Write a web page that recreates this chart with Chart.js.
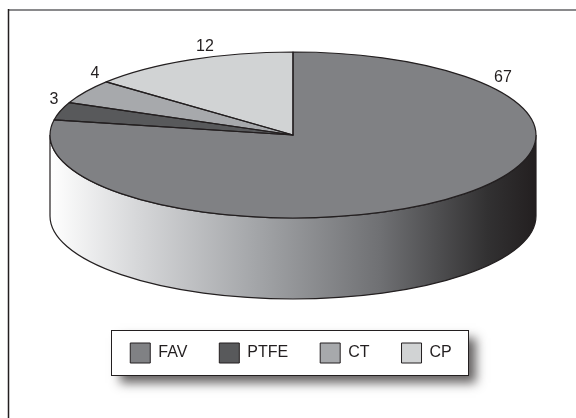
<!DOCTYPE html>
<html>
<head>
<meta charset="utf-8">
<style>
  html, body { margin: 0; padding: 0; background: #fff; }
  canvas { display: block; }
</style>
<script src="https://cdn.jsdelivr.net/npm/chart.js@4"></script>
</head>
<body>
<canvas id="grafico" width="576" height="418"></canvas>
<script>
var categorias = ["FAV", "PTFE", "CT", "CP"];
var valores = [67, 3, 4, 12];
var cores = ["#808184", "#58595b", "#a7a9ac", "#d1d3d4"];

// where the flattened pie sits on the page
var CX = 293, CY = 135, RX = 243, RY = 83, ALTURA = 81;
var TRACO = "#231f20";
// the reference has its value labels placed by hand
var posRotulos = [[503, 78], [54, 100], [95, 74], [205, 47]];

var pizza3d = {
  id: "pizza3d",
  beforeDraw: function (chart) {
    var ctx = chart.ctx;
    ctx.save();
    ctx.fillStyle = "#fff";
    ctx.fillRect(0, 0, chart.width, chart.height);

    // frame
    ctx.strokeStyle = "#8a8a8c";
    ctx.lineWidth = 2;
    ctx.beginPath();
    ctx.moveTo(8, 10);
    ctx.lineTo(chart.width, 10);
    ctx.stroke();
    ctx.strokeStyle = TRACO;
    ctx.lineWidth = 1.5;
    ctx.beginPath();
    ctx.moveTo(8.5, 9);
    ctx.lineTo(8.5, chart.height);
    ctx.stroke();

    // legend box with its shadow
    ctx.shadowColor = "rgba(35,31,32,0.7)";
    ctx.shadowBlur = 10;
    ctx.shadowOffsetX = 8;
    ctx.shadowOffsetY = 8;
    ctx.fillStyle = "#fff";
    ctx.fillRect(112, 330, 356, 45);
    ctx.shadowColor = "transparent";
    ctx.strokeStyle = TRACO;
    ctx.lineWidth = 1;
    ctx.strokeRect(111.5, 330.5, 357, 45);
    ctx.restore();
  },
  beforeDatasetsDraw: function (chart) {
    var ctx = chart.ctx;
    var arco = chart.getDatasetMeta(0).data[0];

    // side wall
    var grad = ctx.createLinearGradient(CX - RX, 0, CX + RX, 0);
    grad.addColorStop(0, "#ffffff");
    grad.addColorStop(0.18, "#d6d7d9");
    grad.addColorStop(0.42, "#a4a6a9");
    grad.addColorStop(0.68, "#6f7073");
    grad.addColorStop(0.9, "#323132");
    grad.addColorStop(1, "#231f20");
    ctx.save();
    ctx.beginPath();
    ctx.ellipse(CX, CY, RX, RY, 0, 0, Math.PI);
    ctx.ellipse(CX, CY + ALTURA, RX, RY, 0, Math.PI, 0, true);
    ctx.closePath();
    ctx.fillStyle = grad;
    ctx.fill();
    ctx.strokeStyle = TRACO;
    ctx.lineWidth = 1.2;
    ctx.stroke();
    ctx.restore();

    // flatten the library's circle into the top of the disc
    ctx.save();
    ctx.translate(CX, CY);
    ctx.scale(RX / arco.outerRadius, RY / arco.outerRadius);
    ctx.translate(-arco.x, -arco.y);
  },
  afterDatasetsDraw: function (chart) {
    var ctx = chart.ctx;
    ctx.restore();

    // slice outlines, stroked unscaled so the line keeps an even width
    ctx.save();
    ctx.strokeStyle = TRACO;
    ctx.lineWidth = 1.2;
    ctx.lineJoin = "round";
    chart.getDatasetMeta(0).data.forEach(function (arco) {
      ctx.beginPath();
      ctx.moveTo(CX, CY);
      ctx.ellipse(CX, CY, RX, RY, 0, arco.startAngle, arco.endAngle);
      ctx.closePath();
      ctx.stroke();
    });

    ctx.fillStyle = TRACO;
    ctx.font = "16px 'Liberation Sans'";
    ctx.textAlign = "center";
    ctx.textBaseline = "middle";
    valores.forEach(function (v, i) {
      ctx.fillText(String(v), posRotulos[i][0], posRotulos[i][1]);
    });
    ctx.restore();
  },
};

new Chart(document.getElementById("grafico"), {
  type: "pie",
  data: {
    labels: categorias,
    datasets: [
      {
        data: valores,
        backgroundColor: cores,
        borderWidth: 0,
      },
    ],
  },
  options: {
    responsive: false,
    animation: false,
    layout: { padding: { left: 6, bottom: 45 } },
    plugins: {
      tooltip: { enabled: false },
      legend: {
        position: "bottom",
        labels: {
          boxWidth: 20,
          boxHeight: 20,
          padding: 32,
          color: TRACO,
          font: { family: "'Liberation Sans'", size: 16 },
          generateLabels: function (chart) {
            return categorias.map(function (c, i) {
              return {
                text: c,
                fillStyle: cores[i],
                strokeStyle: TRACO,
                lineWidth: 1,
                fontColor: TRACO,
                index: i,
              };
            });
          },
        },
      },
    },
  },
  plugins: [pizza3d],
});
</script>
</body>
</html>
